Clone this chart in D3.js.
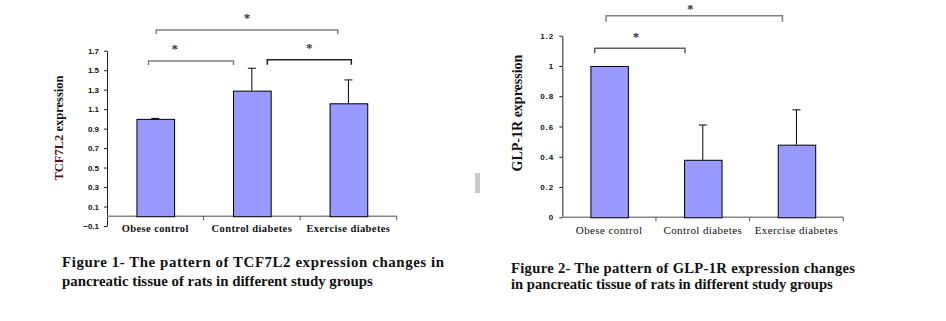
<!DOCTYPE html>
<html>
<head>
<meta charset="utf-8">
<script src="https://cdn.jsdelivr.net/npm/d3@7"></script>
<style>
  body { margin: 0; background: #fff; }
  svg { display: block; }
  .tick text { font-family: Arial, "Liberation Sans", sans-serif; font-weight: bold; font-size: 8px; fill: #111; }
  .serif { font-family: "Liberation Serif", "Times New Roman", Times, serif; }
</style>
</head>
<body>
<div id="container"></div>
<script>
const groups = ["Obese control", "Control diabetes", "Exercise diabetes"];

// TCF7L2 relative expression (mean, SD)
const tcfMean = [1.0, 1.29, 1.16];
const tcfErr = [0.005, 0.23, 0.24];
const tcfTicks = [-0.1, 0.1, 0.3, 0.5, 0.7, 0.9, 1.1, 1.3, 1.5, 1.7];

// GLP-1R relative expression (mean, SD)
const glpMean = [1.0, 0.38, 0.48];
const glpErr = [0, 0.23, 0.23];
const glpTicks = [0, 0.2, 0.4, 0.6, 0.8, 1, 1.2];

// significance brackets: group index + fraction across its band, level in data units
const tcfBrackets = [
  { a: 0, fa: 0.51, b: 2, fb: 0.39, level: 1.913, drop: 4, star: 0.5, lift: 8, color: "#808080" },
  { a: 0, fa: 0.43, b: 1, fb: 0.31, level: 1.594, drop: 4, star: 0.31, lift: 8, color: "#808080" },
  { a: 1, fa: 0.66, b: 2, fb: 0.53, level: 1.607, drop: 5, star: 0.5, lift: 8, color: "#222" }
];
const glpBrackets = [
  { a: 0, fa: 0.467, b: 2, fb: 0.35, level: 1.332, drop: 6, star: 0.477, lift: 3, color: "#808080" },
  { a: 0, fa: 0.346, b: 1, fb: 0.31, level: 1.117, drop: 5, star: 0.457, lift: 7, color: "#606060" }
];

const width = 946, height = 321;
const svg = d3.select("#container")
  .append("svg")
    .attr("width", width)
    .attr("height", height);

function drawChart(opt) {
  const x = d3.scaleBand().domain(groups).range(opt.xRange).padding(0);
  const y = d3.scaleLinear().domain(opt.domain).range(opt.yRange);
  const g = svg.append("g");
  const barW = x.bandwidth() * opt.barFrac;

  // y axis
  g.append("g")
      .attr("transform", `translate(${opt.xRange[0]},0)`)
      .call(d3.axisLeft(y).tickValues(opt.ticks).tickSize(3).tickSizeOuter(0).tickPadding(5)
        .tickFormat(d => d3.format("")(+d.toFixed(1))))
      .call(a => a.select(".domain").attr("stroke", "#222"))
      .call(a => a.selectAll(".tick line").attr("stroke", "#222"))
      .call(a => a.selectAll(".tick text").style("letter-spacing", opt.tickSpacing));

  // baseline at zero with group separators
  g.append("line")
      .attr("x1", opt.xRange[0]).attr("x2", opt.xRange[1])
      .attr("y1", y(0)).attr("y2", y(0))
      .attr("stroke", "#858585").attr("stroke-width", 1.5);
  g.append("g").selectAll("line")
    .data(groups)
    .join("line")
      .attr("x1", d => x(d) + x.bandwidth()).attr("x2", d => x(d) + x.bandwidth())
      .attr("y1", y(0)).attr("y2", y(0) + 4)
      .attr("stroke", "#555");

  const data = groups.map((k, i) => ({ k, v: opt.mean[i], e: opt.err[i] }));

  // error bars (upper only)
  const eb = g.append("g").attr("stroke", "#000").attr("stroke-width", 1);
  eb.selectAll("line.v").data(data).join("line").attr("class", "v")
      .attr("x1", d => x(d.k) + x.bandwidth() / 2).attr("x2", d => x(d.k) + x.bandwidth() / 2)
      .attr("y1", d => y(d.v)).attr("y2", d => y(d.v + d.e));
  eb.selectAll("line.c").data(data.filter(d => d.e > 0)).join("line").attr("class", "c")
      .attr("x1", d => x(d.k) + x.bandwidth() / 2 - 4).attr("x2", d => x(d.k) + x.bandwidth() / 2 + 4)
      .attr("y1", d => y(d.v + d.e)).attr("y2", d => y(d.v + d.e));

  // bars
  g.append("g").selectAll("rect")
    .data(data)
    .join("rect")
      .attr("x", d => x(d.k) + (x.bandwidth() - barW) / 2 + 0.5)
      .attr("y", d => y(d.v) + 0.5)
      .attr("width", barW)
      .attr("height", d => y(0) - y(d.v))
      .attr("fill", "#9999ff")
      .attr("stroke", "#000")
      .attr("stroke-width", 1);

  // category labels
  g.append("g").selectAll("text")
    .data(groups)
    .join("text")
      .attr("class", "serif")
      .attr("x", d => x(d) + x.bandwidth() / 2)
      .attr("y", opt.catY)
      .attr("text-anchor", "middle")
      .style("font-size", opt.catSize)
      .style("font-weight", opt.catWeight)
      .style("letter-spacing", opt.catSpacing)
      .attr("fill", "#111")
      .text(d => d);

  // y title
  const t = g.append("text")
      .attr("class", "serif")
      .attr("transform", `translate(${opt.titleX},${opt.titleY}) rotate(-90)`)
      .attr("text-anchor", "middle")
      .style("font-weight", "bold")
      .style("font-size", opt.titleSize + "px");
  t.append("tspan").attr("fill", opt.titleColor).text(opt.titleA);
  t.append("tspan").attr("fill", "#111").text(opt.titleB);

  // significance brackets
  const bx = (i, f) => x(groups[i]) + f * x.bandwidth();
  const br = g.append("g");
  opt.brackets.forEach(b => {
    const x1 = bx(b.a, b.fa), x2 = bx(b.b, b.fb), yy = y(b.level);
    br.append("path")
        .attr("d", `M${x1},${yy + b.drop}V${yy}H${x2}V${yy + b.drop}`)
        .attr("fill", "none")
        .attr("stroke", b.color)
        .attr("stroke-width", 1.5);
    br.append("text")
        .attr("class", "serif")
        .attr("x", x1 + b.star * (x2 - x1))
        .attr("y", yy - b.lift)
        .attr("text-anchor", "middle")
        .style("font-weight", "bold")
        .style("font-size", "13px")
        .attr("fill", "#3a2a48")
        .text("*");
  });

  // figure caption: size the font so the second line spans capLen2,
  // then justify the first line across capLen
  const cap = svg.append("g")
      .attr("class", "serif")
      .style("font-weight", "bold")
      .attr("fill", "#111");
  const l1 = cap.append("text")
      .attr("x", opt.capX).attr("y", opt.capY[0])
      .style("font-size", "14px")
      .text(opt.caption[0]);
  const l2 = cap.append("text")
      .attr("x", opt.capX).attr("y", opt.capY[1])
      .style("font-size", "14px")
      .text(opt.caption[1]);
  const fs = 14 * opt.capLen2 / l2.node().getComputedTextLength();
  l1.style("font-size", fs + "px")
      .attr("textLength", opt.capLen).attr("lengthAdjust", "spacing");
  l2.style("font-size", fs + "px");
}

drawChart({
  xRange: [107, 396.7], yRange: [226, 50.7], domain: [-0.1, 1.7],
  ticks: tcfTicks, mean: tcfMean, err: tcfErr, barFrac: 0.39,
  brackets: tcfBrackets, tickSpacing: "0px",
  catY: 232, catSize: "10.5px", catWeight: "bold", catSpacing: "0.4px",
  titleX: 63, titleY: 128, titleSize: 12.5, titleColor: "#4a1020",
  titleA: "TCF7L2", titleB: " expression",
  capX: 62, capY: [267, 286], capLen: 382, capLen2: 311,
  caption: ["Figure 1- The pattern of TCF7L2 expression changes in",
            "pancreatic tissue of rats in different study groups"]
});

drawChart({
  xRange: [562.3, 843.3], yRange: [217.3, 35.7], domain: [0, 1.2],
  ticks: glpTicks, mean: glpMean, err: glpErr, barFrac: 0.4,
  brackets: glpBrackets, tickSpacing: "1px",
  catY: 234, catSize: "11px", catWeight: "normal", catSpacing: "0.4px",
  titleX: 522, titleY: 113, titleSize: 14, titleColor: "#111",
  titleA: "GLP-1R", titleB: " expression",
  capX: 511, capY: [273, 289], capLen: 344, capLen2: 322,
  caption: ["Figure 2- The pattern of GLP-1R expression changes",
            "in pancreatic tissue of rats in different study groups"]
});

// small grey marker between the two figures
svg.append("rect")
    .attr("x", 475).attr("y", 173)
    .attr("width", 5).attr("height", 20)
    .attr("fill", "#c8c8c8");
</script>
</body>
</html>
